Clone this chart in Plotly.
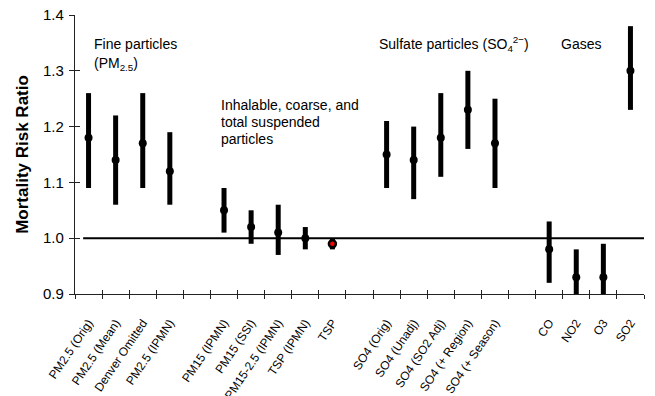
import plotly.graph_objects as go

labels = ["PM2.5 (Orig)", "PM2.5 (Mean)", "Denver Omitted", "PM2.5 (IPMN)", " ",
          "PM15 (IPMN)", "PM15 (SSI)", "PM15-2.5 (IPMN)", "TSP (IPMN)", "TSP", "  ",
          "SO4 (Orig)", "SO4 (Unadj)", "SO4 (SO2 Adj)", "SO4 (+ Region)", "SO4 (+ Season)", "   ",
          "CO", "NO2", "O3", "SO2"]
rr = [1.18, 1.14, 1.17, 1.12, None, 1.05, 1.02, 1.01, 1.00, 0.99, None,
      1.15, 1.14, 1.18, 1.23, 1.17, None, 0.98, 0.93, 0.93, 1.30]
lo = [1.09, 1.06, 1.09, 1.06, None, 1.01, 0.99, 0.97, 0.98, 0.98, None,
      1.09, 1.07, 1.11, 1.16, 1.09, None, 0.92, 0.895, 0.895, 1.23]
hi = [1.26, 1.22, 1.26, 1.19, None, 1.09, 1.05, 1.06, 1.02, 1.00, None,
      1.21, 1.20, 1.26, 1.30, 1.25, None, 1.03, 0.98, 0.99, 1.38]
highlight = "TSP"

plus = [None if v is None else h - v for v, h in zip(rr, hi)]
minus = [None if v is None else v - l for v, l in zip(rr, lo)]
mcolor = ["red" if c == highlight else "black" for c in labels]
msize = [7 if c == highlight else 8 for c in labels]
mline = [2.5 if c == highlight else 0 for c in labels]

FONT = "Liberation Sans, Arial, sans-serif"

fig = go.Figure()
fig.add_trace(go.Scatter(
    x=labels, y=rr, mode="markers",
    marker=dict(color=mcolor, size=msize, opacity=1,
                line=dict(color="black", width=mline)),
    error_y=dict(type="data", symmetric=False, array=plus, arrayminus=minus,
                 thickness=5, width=0, color="black"),
    showlegend=False, hoverinfo="x+y", cliponaxis=False,
))
fig.add_trace(go.Scatter(
    x=labels, y=rr, mode="markers", marker=dict(opacity=0),
    xaxis="x2", yaxis="y2", showlegend=False, hoverinfo="skip",
))

fig.add_shape(type="line", xref="x", yref="y", x0=-0.2, x1=20.5, y0=1.0, y1=1.0,
              line=dict(color="black", width=2), layer="below")

ann = [
    ("Fine particles", 0.030, 0.896),
    ("(PM<sub>2.5</sub>)", 0.030, 0.826),
    ("Inhalable, coarse, and", 0.253, 0.677),
    ("total suspended", 0.253, 0.616),
    ("particles", 0.253, 0.556),
    ("Sulfate particles (SO<sub>4</sub><sup>2−</sup>)", 0.531, 0.896),
    ("Gases", 0.851, 0.896),
]
for t, x, y in ann:
    fig.add_annotation(text=t, xref="paper", yref="paper", x=x, y=y,
                       xanchor="left", yanchor="middle", showarrow=False,
                       font=dict(size=14, color="black", family=FONT))

axis_col = "#222222"
fig.update_layout(
    width=655, height=396,
    margin=dict(l=75, r=11, t=15, b=102),
    paper_bgcolor="white", plot_bgcolor="white",
    font=dict(family=FONT, color="black"),
    xaxis=dict(type="category", categoryorder="array", categoryarray=labels,
               range=[-0.5, 20.5], tickson="boundaries", ticks="outside", ticklen=4,
               tickwidth=1.2, tickcolor=axis_col, showline=True, linecolor=axis_col,
               linewidth=1.2, showgrid=False, zeroline=False, tickangle=-56,
               ticklabelstandoff=16,
               tickfont=dict(size=12, color="black"), automargin=False),
    xaxis2=dict(type="category", categoryorder="array", categoryarray=labels,
                overlaying="x", anchor="y", side="bottom", range=[-0.5, 20.5],
                tickson="boundaries", ticks="inside", ticklen=4, tickwidth=1.2,
                tickcolor=axis_col, showticklabels=False, showline=False,
                showgrid=False, zeroline=False),
    yaxis=dict(range=[0.9, 1.4], dtick=0.1, tickformat=".1f", ticks="outside",
               ticklen=5, tickwidth=1.2, tickcolor=axis_col, showline=True,
               linecolor=axis_col, linewidth=1.2, showgrid=False, zeroline=False,
               ticklabelstandoff=2,
               tickfont=dict(size=15, color="black"), automargin=False,
               title=dict(text="<b>Mortality Risk Ratio</b>", font=dict(size=17, color="black"),
                          standoff=10)),
    yaxis2=dict(range=[0.9, 1.4], dtick=0.1, overlaying="y", anchor="x", side="left",
                ticks="inside", ticklen=5, tickwidth=1.2, tickcolor=axis_col,
                showticklabels=False, showline=False, showgrid=False, zeroline=False),
)

fig.write_html("out.html")
